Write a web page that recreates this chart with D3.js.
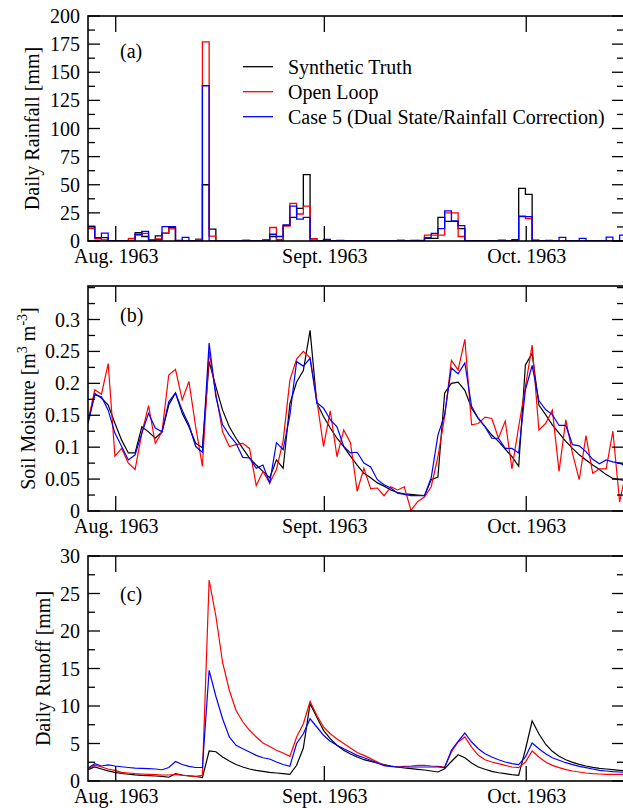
<!DOCTYPE html>
<html><head><meta charset="utf-8">
<script src="https://cdn.jsdelivr.net/npm/d3@7"></script>
<style>html,body{margin:0;padding:0;background:#fff;}svg{display:block;}</style>
</head><body>
<svg id="chart" width="623" height="808"></svg>
<script>
// ---------- DATA ----------
const seriesNames = ["Synthetic Truth", "Open Loop", "Case 5 (Dual State/Rainfall Correction)"];
const seriesColors = ["#000000", "#ff0000", "#0000ff"];
const monthLabels = ["Aug. 1963", "Sept. 1963", "Oct. 1963"];
const monthDays = [0, 31, 61];          // days since 1 Aug 1963
const firstDay = -4.12;                 // day of the first daily value

// (a) daily rainfall [mm], one value per day
const rainTruth = [13,3,3,0,0,0,0.5,7.5,4,1, 4.5,7,12,0.5,0,0,1.5,50,10.5,0, 0,0,0,0.5,0,0,1,4,1,14,
  21,29,59,2,0,0,0,0,0,0, 0,0,0,0,0,0,0.6,0,0.5,0, 2.4,2.4,21,17.5,17.5,11,0,0,0,0,
  0,0,0,0,46.8,41.5,0,0,0,0, 0,0,0,0,0,0,0,0,0,0];
const rainOpen = [11,2,1,0,0,0,2.4,5.3,6.8,1, 1.8,6.8,10.7,0,0,0,1.5,177,4.4,0, 0,0,0,0.6,0,0,1,12,1,13.3,
  33.5,24,31,2,0,0,0,0,0,0, 0,0,0,0,0,0,0.6,0,0,0.6, 5.3,5.3,5.3,25,25,4,0,0,0,0.3,
  0,0,0,1,21.6,20,1,0,0,0, 0,0,0,0,0,0,0,0,0,0];
const rainCase5 = [13,3,7,0,0,0,0,6,8.6,0, 1,12.7,12.7,0,3.3,0,0,138,0,0, 0,0,0,0,0,0,0,6,4,14,
  31,19.5,21,0,0,1.5,0,0.6,0,0, 0,0,0,0,0,0,0,0,0,0, 3,6.8,11,26.7,17.8,13.6,0,0,0,0,
  0,0.8,0,1.2,22,21.6,0,0,0.6,0, 3.3,0,0,2.4,0,0,0,3.5,0,5.3];

// (b) soil moisture [m3 m-3]
const smTruth = [0.14,0.184,0.177,0.166,0.1375,0.111,0.091,0.091,0.132,0.124,
  0.114,0.124,0.166,0.185,0.153,0.132,0.106,0.099,0.234,0.195,
  0.158,0.132,0.114,0.098,0.083,0.072,0.062,0.052,0.080,0.067,
  0.168,0.202,0.22,0.283,0.169,0.148,0.130,0.114,0.101,0.086,
  0.072,0.059,0.052,0.044,0.039,0.033,0.029,0.027,0.026,0.025,
  0.024,0.049,0.053,0.185,0.2,0.202,0.189,0.161,0.145,0.132,
  0.119,0.109,0.097,0.085,0.07,0.229,0.247,0.166,0.151,0.135,
  0.122,0.109,0.098,0.088,0.080,0.072,0.065,0.057,0.051,0.049,0.048];
const smOpen = [0.14,0.19,0.183,0.231,0.086,0.098,0.075,0.065,0.122,0.165,
  0.106,0.124,0.213,0.222,0.174,0.203,0.132,0.07,0.25,0.184,
  0.124,0.101,0.104,0.106,0.098,0.040,0.062,0.044,0.065,0.11,
  0.205,0.238,0.25,0.24,0.174,0.101,0.157,0.085,0.127,0.107,
  0.031,0.067,0.035,0.036,0.024,0.038,0.033,0.038,0.001,0.015,
  0.022,0.038,0.085,0.148,0.236,0.221,0.269,0.135,0.137,0.147,
  0.145,0.114,0.141,0.066,0.132,0.195,0.26,0.127,0.137,0.158,
  0.062,0.143,0.09,0.049,0.118,0.059,0.066,0.066,0.125,0.014,0.065];
const smCase5 = [0.137,0.182,0.179,0.158,0.122,0.101,0.080,0.088,0.122,0.153,
  0.130,0.124,0.171,0.185,0.158,0.135,0.101,0.092,0.263,0.179,
  0.135,0.119,0.106,0.084,0.083,0.067,0.072,0.044,0.107,0.096,
  0.15,0.234,0.227,0.239,0.17,0.161,0.143,0.132,0.101,0.091,
  0.092,0.075,0.069,0.049,0.041,0.036,0.028,0.026,0.024,0.024,
  0.024,0.052,0.119,0.151,0.224,0.215,0.232,0.164,0.145,0.132,
  0.114,0.114,0.098,0.098,0.091,0.19,0.228,0.173,0.159,0.151,
  0.134,0.134,0.104,0.102,0.093,0.081,0.074,0.080,0.077,0.075,0.070];

// (c) daily runoff [mm]
const roTruth = [1.5,1.87,1.6,1.35,1.15,1.0,0.9,0.82,0.76,0.71,
  0.67,0.62,0.5,0.98,0.8,0.67,0.6,0.45,4.0,3.9,
  3.2,2.67,2.2,1.87,1.6,1.42,1.29,1.16,1.07,0.98,
  0.89,2.1,4.4,10.3,8.5,6.76,5.64,4.76,4.09,3.6,
  3.2,2.84,2.62,2.4,2.18,2.0,1.87,1.73,1.64,1.56,
  1.47,1.33,1.2,1.64,2.6,3.5,3.1,2.4,1.87,1.56,
  1.29,1.1,0.98,0.84,0.76,4.2,8.0,6.3,4.9,3.96,
  3.29,2.84,2.49,2.22,2.0,1.82,1.69,1.6,1.51,1.42,1.35];
const roOpen = [1.6,2.1,1.87,1.6,1.42,1.16,1.07,0.98,0.93,0.89,
  0.84,0.8,0.8,0.89,0.76,0.71,0.62,0.75,26.8,22,
  15.8,12.1,9.4,7.9,6.76,5.87,5.07,4.6,4.1,3.73,
  3.29,5.87,7.64,10.6,8.76,7.2,6.3,5.6,5.0,4.4,
  3.8,3.42,2.98,2.53,2.09,1.96,1.87,1.96,2.0,2.09,
  2.1,2.0,1.96,1.87,3.87,5.2,5.87,4.53,3.42,2.84,
  2.53,2.31,2.09,1.87,1.78,2.53,4.0,3.2,2.53,2.09,
  1.78,1.51,1.33,1.2,1.07,0.98,0.93,0.89,0.89,0.89,0.89];
const roCase5 = [1.7,2.3,2.0,2.15,2.0,1.9,1.8,1.72,1.68,1.65,
  1.6,1.5,1.8,2.6,2.2,1.95,1.8,1.8,14.75,11.3,
  8.3,5.87,4.76,4.3,3.87,3.42,3.1,2.93,2.53,2.2,
  1.96,5.0,6.3,8.3,7.2,6.1,5.3,4.76,4.3,3.87,
  3.42,3.1,2.76,2.4,2.04,1.96,1.87,1.87,1.87,1.87,
  1.87,1.87,1.87,1.78,4.1,5.3,6.4,5.2,4.3,3.64,
  3.2,2.84,2.53,2.31,2.18,3.2,5.07,4.3,3.64,3.1,
  2.76,2.44,2.18,1.96,1.78,1.6,1.42,1.33,1.24,1.2,1.18];

const rainTicks = [0,25,50,75,100,125,150,175,200];
const smTicks = [0,0.05,0.1,0.15,0.2,0.25,0.3];
const roTicks = [0,5,10,15,20,25,30];

// ---------- LAYOUT ----------
const svg = d3.select("#chart");
const font = "'Liberation Serif','Times New Roman',serif";
const L = 88, R = 624;
const x = d3.scaleLinear().domain([firstDay, firstDay + 79.65]).range([L, R]);

const panels = [
  {id:"a", top:16, bottom:241, domain:[0,200], ticks:rainTicks, minor:12.5, fmt:d=>String(d),
   ylabel:"Daily Rainfall [mm]", ylx:32, tag:"(a)", tagY:58,
   series:[rainTruth, rainOpen, rainCase5], step:true},
  {id:"b", top:286, bottom:511, domain:[0,0.3525], ticks:smTicks, minor:0.025, fmt:d=>String(+d.toFixed(2)),
   ylabel:null, ylx:28, tag:"(b)", tagY:322,
   series:[smTruth, smOpen, smCase5], step:false},
  {id:"c", top:556, bottom:781, domain:[0,30], ticks:roTicks, minor:2.5, fmt:d=>String(d),
   ylabel:"Daily Runoff [mm]", ylx:43, tag:"(c)", tagY:601,
   series:[roTruth, roOpen, roCase5], step:false}
];

panels.forEach(p => {
  const y = d3.scaleLinear().domain(p.domain).range([p.bottom, p.top]);
  const g = svg.append("g");
  const clipId = "clip-" + p.id;
  svg.append("clipPath").attr("id", clipId).append("rect")
    .attr("x", L).attr("y", p.top - 2).attr("width", R - L).attr("height", p.bottom - p.top + 2);

  // data
  const dg = g.append("g").attr("clip-path", `url(#${clipId})`);
  p.series.forEach((vals, si) => {
    let pts = vals.map((v, i) => [firstDay + i, v]);
    if (p.step) pts.push([firstDay + vals.length, vals[vals.length - 1]]);
    const line = d3.line().x(d => x(d[0])).y(d => y(d[1]))
      .curve(p.step ? d3.curveStepAfter : d3.curveLinear);
    dg.append("path").attr("d", line(pts)).attr("fill", "none")
      .attr("stroke", seriesColors[si]).attr("stroke-width", p.step ? 1.3 : 1.2)
      .attr("stroke-linejoin", "miter");
  });

  // y ticks (major + minor), both sides, inward
  const majorLen = 12, minorLen = 7;
  const ymax = p.domain[1];
  const minors = d3.range(p.domain[0], ymax + 1e-9, p.minor).filter(v => y(v) >= p.top - 0.5);
  minors.forEach(v => {
    const isMajor = p.ticks.some(t => Math.abs(t - v) < 1e-9);
    const len = isMajor ? majorLen : minorLen;
    g.append("line").attr("x1", L).attr("x2", L + len).attr("y1", y(v)).attr("y2", y(v))
      .attr("stroke", "#000").attr("stroke-width", 1.3);
    g.append("line").attr("x1", R).attr("x2", R - len).attr("y1", y(v)).attr("y2", y(v))
      .attr("stroke", "#000").attr("stroke-width", 1.3);
  });
  p.ticks.forEach(t => {
    g.append("text").attr("x", 80).attr("y", y(t)).attr("dy", "0.35em")
      .attr("text-anchor", "end").attr("font-family", font).attr("font-size", 20)
      .text(p.fmt(t));
  });

  // x month ticks (top & bottom) and labels
  monthDays.forEach((d, i) => {
    const xx = x(d);
    g.append("line").attr("x1", xx).attr("x2", xx).attr("y1", p.top).attr("y2", p.top + 16)
      .attr("stroke", "#000").attr("stroke-width", 1.3);
    g.append("line").attr("x1", xx).attr("x2", xx).attr("y1", p.bottom).attr("y2", p.bottom - 15)
      .attr("stroke", "#000").attr("stroke-width", 1.3);
    g.append("text").attr("x", xx + 0.5).attr("y", p.bottom + 21.5).attr("text-anchor", "middle")
      .attr("font-family", font).attr("font-size", 20).text(monthLabels[i]);
  });

  // frame
  g.append("rect").attr("x", L).attr("y", p.top).attr("width", R - L).attr("height", p.bottom - p.top)
    .attr("fill", "none").attr("stroke", "#000").attr("stroke-width", 1.6);

  // panel tag
  g.append("text").attr("x", 120).attr("y", p.tagY).attr("font-family", font).attr("font-size", 20).text(p.tag);

  // y label
  const cy = (p.top + p.bottom) / 2;
  const yl = g.append("text").attr("transform", `translate(${p.ylx},${cy}) rotate(-90)`)
    .attr("text-anchor", "middle").attr("dy", "0.35em")
    .attr("font-family", font).attr("font-size", 20);
  if (p.ylabel) {
    yl.text(p.ylabel);
  } else {
    yl.append("tspan").text("Soil Moisture [m");
    yl.append("tspan").attr("font-size", 14).attr("dy", "-8").text("3");
    yl.append("tspan").attr("dy", "8").text(" m");
    yl.append("tspan").attr("font-size", 14).attr("dy", "-8").text("-3");
    yl.append("tspan").attr("dy", "8").text("]");
  }
});

// legend in panel (a)
const legY = [66.7, 91.7, 116.7];
seriesNames.forEach((n, i) => {
  svg.append("line").attr("x1", 243).attr("x2", 273).attr("y1", legY[i]).attr("y2", legY[i])
    .attr("stroke", seriesColors[i]).attr("stroke-width", 1.3);
  svg.append("text").attr("x", 288).attr("y", legY[i]).attr("dy", "0.35em")
    .attr("font-family", font).attr("font-size", 20).text(n);
});
</script>
</body></html>
